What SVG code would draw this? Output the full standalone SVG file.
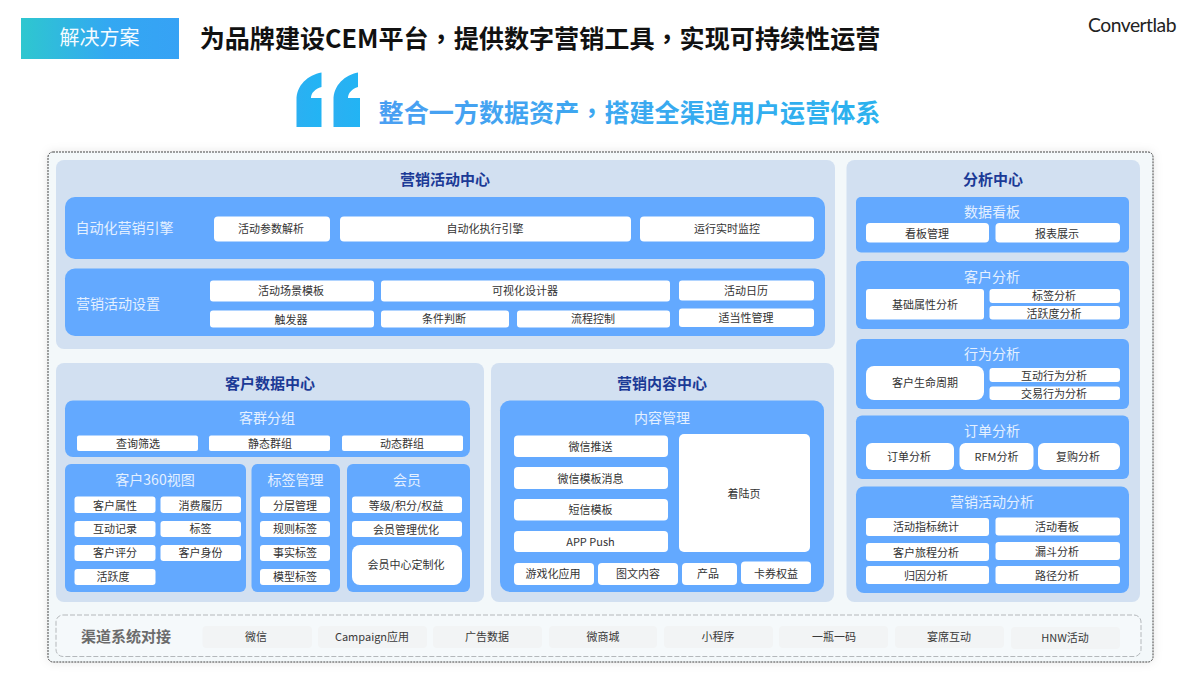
<svg xmlns="http://www.w3.org/2000/svg" width="1200" height="675" viewBox="0 0 1200 675">
<style>
text{font-family:"Noto Sans CJK SC","Noto Sans",sans-serif;text-anchor:middle}
.tc{font-family:"Noto Sans CJK TC",sans-serif}
.panel{fill:#d2e0f1}
.box{fill:#63a9ff}
.chip{fill:#fff}
.ch{fill:#f2f4f5}
.pt{font-size:15px;font-weight:700;fill:#1b3a96}
.bt{font-size:14px;fill:#e4f0ff}
.ct{font-size:11px;fill:#333}
.cs{font-size:11px;fill:#3a3a3a}
</style>
<defs>
<linearGradient id="badge" x1="0" x2="1" y1="0" y2="0"><stop offset="0" stop-color="#2ec7cf"/><stop offset="0.55" stop-color="#33a8f2"/><stop offset="1" stop-color="#36a2f5"/></linearGradient>
<linearGradient id="sub" x1="379" x2="880" y1="0" y2="0" gradientUnits="userSpaceOnUse"><stop offset="0" stop-color="#4a9ff2"/><stop offset="1" stop-color="#2bb2ee"/></linearGradient>
<linearGradient id="quote" x1="0" x2="1" y1="0" y2="0"><stop offset="0" stop-color="#2bb0f2"/><stop offset="1" stop-color="#22b4f4"/></linearGradient>
<filter id="soft" x="-3%" y="-6%" width="106%" height="112%"><feDropShadow dx="0" dy="0" stdDeviation="5" flood-color="#000" flood-opacity="0.1"/></filter>
</defs>
<rect width="1200" height="675" fill="#fff"/>
<g id="header">
<g id="badge-node"><rect x="21" y="18" width="158" height="41" fill="url(#badge)"/><text x="99.5" y="45" font-size="20" fill="#f4fbff">解决方案</text></g>
<text id="title" x="540" y="48" font-size="25.1" font-weight="700" fill="#111">为品牌建设CEM平台<tspan class="tc">，</tspan>提供数字营销工具<tspan class="tc">，</tspan>实现可持续性运营</text>
<text id="logo" x="1132" y="32" font-size="19.3" style="font-family:'Lato','Open Sans',sans-serif;letter-spacing:-0.5px" fill="#222">Convertlab</text>
<path id="quote-left" fill="url(#quote)" d="M296.500 127V100C296.500 85 308 75 321.500 72.500V87C315 89 311 93 311 98H321.500V127Z"/>
<path id="quote-right" fill="url(#quote)" d="M333.500 127V100C333.500 85 345 75 358 72.500V87C352 89 348 93 348 98H360V127Z"/>
<text id="subtitle" x="629.500" y="122" font-size="25.100" font-weight="700" fill="url(#sub)">整合一方数据资产<tspan class="tc">，</tspan>搭建全渠道用户运营体系</text>
</g>
<rect id="frame" x="48" y="152" width="1105" height="510" rx="5" fill="#f3f8fa" stroke="#444" stroke-width="1" stroke-dasharray="2 1" filter="url(#soft)"/>

<g id="marketing-center">
<rect class="panel" x="56" y="160" width="779" height="189" rx="8"/>
<text class="pt" x="445" y="185">营销活动中心</text>
<g id="automation-engine"><rect class="box" x="65" y="197" width="760" height="62" rx="10"/><text class="bt" x="124.500" y="233">自动化营销引擎</text>
<g id="c1"><rect class="chip" x="214" y="216.500" width="116" height="25" rx="4"/><text class="ct" x="271" y="233">活动参数解析</text></g>
<g id="c2"><rect class="chip" x="340" y="216.500" width="291" height="25" rx="4"/><text class="ct" x="485" y="233">自动化执行引擎</text></g>
<g id="c3"><rect class="chip" x="640" y="216.500" width="174" height="25" rx="4"/><text class="ct" x="727" y="233">运行实时监控</text></g>
</g>
<g id="campaign-settings"><rect class="box" x="65" y="268.500" width="760" height="67.500" rx="10"/><text class="bt" x="118" y="309">营销活动设置</text>
<g id="c4"><rect class="chip" x="210" y="280.500" width="164" height="21" rx="3"/><text class="ct" x="291" y="295">活动场景模板</text></g>
<g id="c5"><rect class="chip" x="381" y="280.500" width="289" height="21" rx="3"/><text class="ct" x="525" y="295">可视化设计器</text></g>
<g id="c6"><rect class="chip" x="679" y="280.500" width="135" height="20" rx="3"/><text class="ct" x="746" y="295">活动日历</text></g>
<g id="c7"><rect class="chip" x="210" y="310.500" width="164" height="17" rx="3"/><text class="ct" x="291" y="324">触发器</text></g>
<g id="c8"><rect class="chip" x="381" y="310.500" width="128" height="17" rx="3"/><text class="ct" x="444" y="323">条件判断</text></g>
<g id="c9"><rect class="chip" x="517" y="310.500" width="153" height="17" rx="3"/><text class="ct" x="593" y="323">流程控制</text></g>
<g id="c10"><rect class="chip" x="679" y="308.500" width="135" height="18.500" rx="3"/><text class="ct" x="746" y="322">适当性管理</text></g>
</g>
</g>

<g id="customer-data-center">
<rect class="panel" x="56" y="363" width="428" height="239" rx="8"/>
<text class="pt" x="270" y="389">客户数据中心</text>
<g id="segments"><rect class="box" x="65" y="400.500" width="405" height="56.500" rx="8"/><text class="bt" x="267" y="423">客群分组</text>
<g id="c11"><rect class="chip" x="77" y="435.500" width="121" height="15.500" rx="2"/><text class="ct" x="138" y="448">查询筛选</text></g>
<g id="c12"><rect class="chip" x="209" y="435.500" width="121" height="15.500" rx="2"/><text class="ct" x="270" y="448">静态群组</text></g>
<g id="c13"><rect class="chip" x="342" y="435.500" width="121" height="15.500" rx="2"/><text class="ct" x="402" y="448">动态群组</text></g>
</g>
<g id="customer-360"><rect class="box" x="65" y="464" width="181" height="128" rx="6"/><text class="bt" x="155" y="485">客户360视图</text>
<g id="c14"><rect class="chip" x="74.500" y="496.500" width="81" height="16.500" rx="3"/><text class="ct" x="115" y="510">客户属性</text></g>
<g id="c15"><rect class="chip" x="160.500" y="496.500" width="80.500" height="16.500" rx="3"/><text class="ct" x="200.500" y="510">消费履历</text></g>
<g id="c16"><rect class="chip" x="74.500" y="521" width="81" height="16" rx="3"/><text class="ct" x="115" y="533">互动记录</text></g>
<g id="c17"><rect class="chip" x="160.500" y="521" width="80.500" height="16" rx="3"/><text class="ct" x="200.500" y="533">标签</text></g>
<g id="c18"><rect class="chip" x="74.500" y="545" width="81" height="16" rx="3"/><text class="ct" x="115" y="557">客户评分</text></g>
<g id="c19"><rect class="chip" x="160.500" y="545" width="80.500" height="16" rx="3"/><text class="ct" x="200.500" y="557">客户身份</text></g>
<g id="c20"><rect class="chip" x="74.500" y="569" width="81" height="16" rx="3"/><text class="ct" x="113" y="581">活跃度</text></g>
</g>
<g id="tag-management"><rect class="box" x="251.500" y="464" width="88.500" height="128" rx="6"/><text class="bt" x="295.500" y="485">标签管理</text>
<g id="c21"><rect class="chip" x="260" y="496.500" width="70" height="16.500" rx="3"/><text class="ct" x="295" y="510">分层管理</text></g>
<g id="c22"><rect class="chip" x="260" y="521" width="70" height="16" rx="3"/><text class="ct" x="295" y="533">规则标签</text></g>
<g id="c23"><rect class="chip" x="260" y="545" width="70" height="16" rx="3"/><text class="ct" x="295" y="557">事实标签</text></g>
<g id="c24"><rect class="chip" x="260" y="569" width="70" height="16" rx="3"/><text class="ct" x="295" y="581">模型标签</text></g>
</g>
<g id="membership"><rect class="box" x="347" y="464" width="123" height="128" rx="6"/><text class="bt" x="407" y="485">会员</text>
<g id="c25"><rect class="chip" x="352" y="496.500" width="110" height="16.500" rx="3"/><text class="ct" x="406" y="510">等级/积分/权益</text></g>
<g id="c26"><rect class="chip" x="352" y="521" width="110" height="16" rx="3"/><text class="ct" x="406" y="534">会员管理优化</text></g>
<g id="c27"><rect class="chip" x="352" y="545" width="110" height="40" rx="8"/><text class="ct" x="406" y="569">会员中心定制化</text></g>
</g>
</g>

<g id="content-center">
<rect class="panel" x="491" y="363" width="343" height="239" rx="8"/>
<text class="pt" x="662" y="389">营销内容中心</text>
<g id="content-management"><rect class="box" x="500" y="400.500" width="324" height="191.500" rx="10"/><text class="bt" x="662" y="423">内容管理</text>
<g id="c28"><rect class="chip" x="514" y="435.500" width="154" height="21.500" rx="4"/><text class="ct" x="590.500" y="451">微信推送</text></g>
<g id="c29"><rect class="chip" x="514" y="467" width="154" height="22" rx="4"/><text class="ct" x="590.500" y="483">微信模板消息</text></g>
<g id="c30"><rect class="chip" x="514" y="499" width="154" height="21.500" rx="4"/><text class="ct" x="590.500" y="514">短信模板</text></g>
<g id="c31"><rect class="chip" x="514" y="531" width="154" height="21" rx="4"/><text class="ct" x="590.500" y="546">APP Push</text></g>
<g id="c32"><rect class="chip" x="679" y="434" width="131" height="118" rx="5"/><text class="ct" x="744" y="498">着陆页</text></g>
<g id="c33"><rect class="chip" x="514" y="563" width="80" height="22" rx="4"/><text class="ct" x="553" y="578">游戏化应用</text></g>
<g id="c34"><rect class="chip" x="598" y="563" width="80" height="22" rx="4"/><text class="ct" x="638" y="578">图文内容</text></g>
<g id="c35"><rect class="chip" x="682" y="563" width="55" height="22" rx="4"/><text class="ct" x="708" y="578">产品</text></g>
<g id="c36"><rect class="chip" x="741" y="561.500" width="70" height="22.500" rx="4"/><text class="ct" x="776" y="578">卡券权益</text></g>
</g>
</g>

<g id="analysis-center">
<rect class="panel" x="846.500" y="160" width="293.500" height="442" rx="8"/>
<text class="pt" x="993" y="185">分析中心</text>
<g id="dashboard"><rect class="box" x="856" y="197" width="273" height="55.500" rx="5"/><text class="bt" x="992" y="217">数据看板</text>
<g id="c37"><rect class="chip" x="866" y="223" width="123" height="19.500" rx="4"/><text class="ct" x="927" y="238">看板管理</text></g>
<g id="c38"><rect class="chip" x="995.500" y="223" width="124.500" height="19.500" rx="4"/><text class="ct" x="1057" y="238">报表展示</text></g>
</g>
<g id="customer-analysis"><rect class="box" x="856" y="261" width="273" height="68" rx="6"/><text class="bt" x="992" y="282">客户分析</text>
<g id="c39"><rect class="chip" x="866" y="289" width="118" height="30.500" rx="3"/><text class="ct" x="925" y="309">基础属性分析</text></g>
<g id="c40"><rect class="chip" x="989.500" y="289" width="130.500" height="14" rx="3"/><text class="ct" x="1054" y="300">标签分析</text></g>
<g id="c41"><rect class="chip" x="989.500" y="306" width="130.500" height="13.500" rx="3"/><text class="ct" x="1054" y="318">活跃度分析</text></g>
</g>
<g id="behavior-analysis"><rect class="box" x="856" y="339" width="273" height="70" rx="6"/><text class="bt" x="992" y="359">行为分析</text>
<g id="c42"><rect class="chip" x="866" y="366" width="118" height="34" rx="8"/><text class="ct" x="925" y="387">客户生命周期</text></g>
<g id="c43"><rect class="chip" x="989.500" y="368" width="130.500" height="14" rx="3"/><text class="ct" x="1054" y="380">互动行为分析</text></g>
<g id="c44"><rect class="chip" x="989.500" y="386.500" width="130.500" height="13.500" rx="3"/><text class="ct" x="1054" y="398">交易行为分析</text></g>
</g>
<g id="order-analysis"><rect class="box" x="856" y="415.500" width="273" height="63.500" rx="6"/><text class="bt" x="992" y="436">订单分析</text>
<g id="c45"><rect class="chip" x="866" y="443" width="88" height="27" rx="6"/><text class="ct" x="909" y="461">订单分析</text></g>
<g id="c46"><rect class="chip" x="959.500" y="443" width="74" height="27" rx="6"/><text class="ct" x="996.500" y="461">RFM分析</text></g>
<g id="c47"><rect class="chip" x="1038" y="443" width="82" height="27" rx="6"/><text class="ct" x="1078" y="461">复购分析</text></g>
</g>
<g id="campaign-analysis"><rect class="box" x="856" y="486.500" width="273" height="106.500" rx="8"/><text class="bt" x="992" y="507">营销活动分析</text>
<g id="c48"><rect class="chip" x="866" y="518" width="123" height="18" rx="3"/><text class="ct" x="926" y="531">活动指标统计</text></g>
<g id="c49"><rect class="chip" x="995.500" y="517.500" width="124.500" height="18" rx="3"/><text class="ct" x="1057" y="531">活动看板</text></g>
<g id="c50"><rect class="chip" x="866" y="543" width="123" height="18" rx="3"/><text class="ct" x="926" y="557">客户旅程分析</text></g>
<g id="c51"><rect class="chip" x="995.500" y="542" width="124.500" height="18" rx="3"/><text class="ct" x="1057" y="556">漏斗分析</text></g>
<g id="c52"><rect class="chip" x="866" y="566" width="123" height="18" rx="3"/><text class="ct" x="926" y="580">归因分析</text></g>
<g id="c53"><rect class="chip" x="995.500" y="566" width="124.500" height="18" rx="3"/><text class="ct" x="1057" y="580">路径分析</text></g>
</g>
</g>

<g id="channels">
<rect x="56" y="615" width="1085" height="41.500" rx="7" fill="#f5f9fb" stroke="#b4b8bb" stroke-width="1" stroke-dasharray="5 2"/>
<text x="126" y="642" font-size="15" font-weight="700" fill="#6b6b6b">渠道系统对接</text>
<g id="ch1"><rect class="ch" x="202.500" y="626" width="109.500" height="22" rx="4"/><text class="cs" x="256" y="641">微信</text></g>
<g id="ch2"><rect class="ch" x="318" y="626" width="109" height="22" rx="4"/><text class="cs" x="372" y="641">Campaign应用</text></g>
<g id="ch3"><rect class="ch" x="433" y="626" width="109" height="22" rx="4"/><text class="cs" x="487" y="641">广告数据</text></g>
<g id="ch4"><rect class="ch" x="549" y="626" width="108" height="22" rx="4"/><text class="cs" x="603" y="641">微商城</text></g>
<g id="ch5"><rect class="ch" x="664" y="626" width="109" height="22" rx="4"/><text class="cs" x="718" y="641">小程序</text></g>
<g id="ch6"><rect class="ch" x="779" y="626" width="109" height="22" rx="4"/><text class="cs" x="834" y="641">一瓶一码</text></g>
<g id="ch7"><rect class="ch" x="895" y="626" width="109" height="22" rx="4"/><text class="cs" x="949" y="641">宴席互动</text></g>
<g id="ch8"><rect class="ch" x="1011" y="627" width="109" height="22" rx="4"/><text class="cs" x="1065" y="642">HNW活动</text></g>
</g>
</svg>
